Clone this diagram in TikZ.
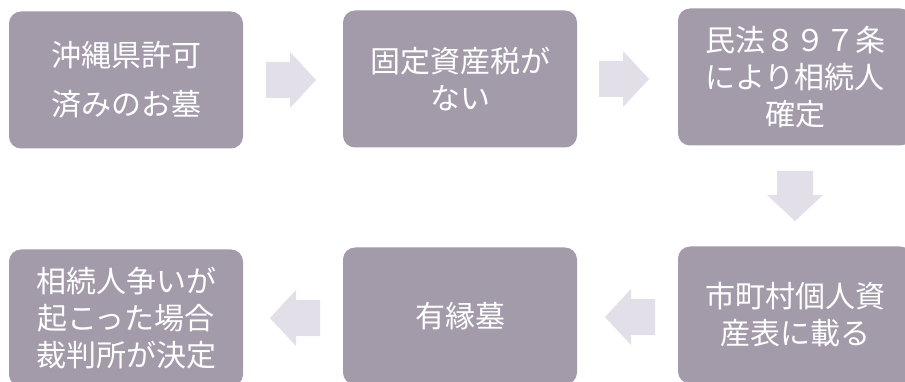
\documentclass[tikz,border=0pt]{standalone}
\usepackage{fontspec}
\newfontfamily\jp{Noto Sans CJK JP}
\definecolor{boxfill}{RGB}{163,154,170}
\definecolor{arrowfill}{RGB}{226,223,232}
\tikzset{
  stepbox/.style={fill=boxfill, rounded corners=12pt, minimum width=234pt, minimum height=137pt,
    text=white, font=\jp\fontsize{30}{37}\selectfont, align=center, inner sep=0pt},
  blockarrow/.pic={\fill[arrowfill] (-25,-18) -- (-1,-18) -- (-1,-28) -- (25,0) -- (-1,28) -- (-1,18) -- (-25,18) -- cycle;}
}
\begin{document}
\begin{tikzpicture}[x=1pt,y=-1pt]
\useasboundingbox (0,0) rectangle (905,382);
\fill[white] (0,0) rectangle (905,382);
\node[stepbox] (b1) at (126,80) {\raisebox{-4pt}{沖縄県許可}\\[12pt]\raisebox{-4pt}{済みのお墓}};
\node[stepbox] (b2) at (460,79) {固定資産税が\\ない};
\node[stepbox] (b3) at (795,77) {民法８９７条\\により相続人\\確定};
\node[stepbox] (b4) at (795,315) {市町村個人資\\産表に載る};
\node[stepbox] (b5) at (460,316) {有縁墓};
\node[stepbox] (b6) at (126,318) {相続人争いが\\起こった場合\\裁判所が決定};
\pic (a12) at (291,80) {blockarrow};
\pic (a23) at (624,79) {blockarrow};
\pic[rotate=-90] (a34) at (795,196) {blockarrow};
\pic[rotate=180] (a45) at (630,317) {blockarrow};
\pic[rotate=180] (a56) at (295,318) {blockarrow};
\end{tikzpicture}
\end{document}
